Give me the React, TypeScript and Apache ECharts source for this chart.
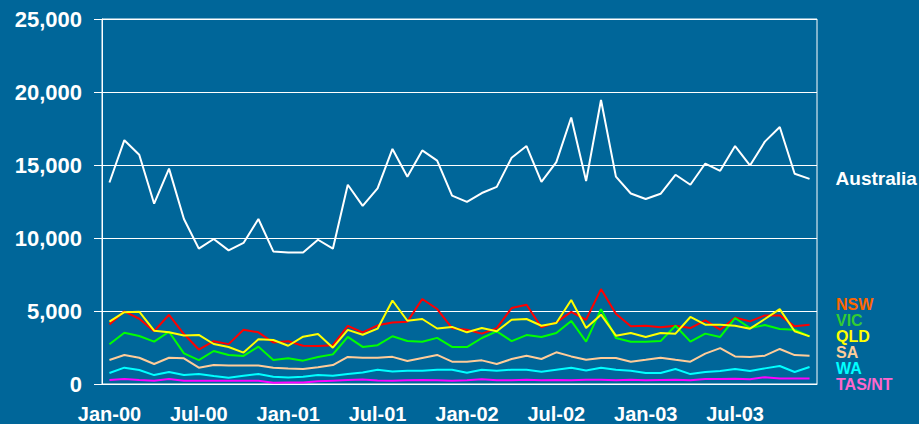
import React, { useEffect, useRef } from "react";
import * as echarts from "echarts";

const MONTHS = ["Jan", "Feb", "Mar", "Apr", "May", "Jun", "Jul", "Aug", "Sep", "Oct", "Nov", "Dec"];
const YEARS = ["00", "01", "02", "03"];
const CATEGORIES = YEARS.flatMap((y) => MONTHS.map((m) => `${m}-${y}`));

const AUSTRALIA = [13800, 16700, 15700, 12350, 14750, 11300, 9270, 9930, 9150, 9660, 11300, 9080, 9010, 9010, 9880, 9270,
  13650, 12200, 13400, 16100, 14200, 16000, 15300, 12900, 12470, 13080, 13500, 15500, 16300, 13850, 15200, 18250,
  13900, 19450, 14200, 13050, 12670, 13030, 14330, 13650, 15100, 14600, 16300, 14970, 16600, 17600, 14400, 14050];
const NSW = [4070, 4980, 4470, 3620, 4740, 3420, 2360, 2930, 2730, 3710, 3540, 2840, 2930, 2620, 2610, 2660,
  3980, 3530, 4020, 4210, 4270, 5820, 5135, 3820, 3720, 3450, 3830, 5200, 5430, 3880, 4220, 4940,
  4400, 6500, 4810, 3950, 3990, 3880, 3990, 3830, 4360, 3720, 4560, 4290, 4700, 4700, 3950, 4060];
const VIC = [2720, 3510, 3290, 2900, 3580, 2100, 1640, 2260, 1990, 1920, 2560, 1640, 1760, 1600, 1850, 2030,
  3230, 2540, 2660, 3270, 2940, 2900, 3160, 2540, 2530, 3150, 3600, 2940, 3350, 3220, 3490, 4320,
  2900, 5130, 3150, 2900, 2900, 2940, 3990, 2900, 3450, 3220, 4520, 3830, 4040, 3770, 3720, 3260];
const QLD = [4270, 4920, 4950, 3650, 3540, 3320, 3360, 2740, 2530, 2150, 3060, 3010, 2620, 3240, 3420, 2490,
  3710, 3370, 3790, 5720, 4330, 4450, 3800, 3910, 3540, 3830, 3610, 4400, 4450, 3990, 4180, 5750,
  3830, 4750, 3310, 3490, 3220, 3490, 3450, 4590, 4060, 4060, 3990, 3790, 4450, 5130, 3610, 3260];
const SA = [1640, 1990, 1800, 1370, 1800, 1760, 1120, 1300, 1260, 1260, 1260, 1120, 1070, 1030, 1140, 1300,
  1850, 1790, 1790, 1860, 1570, 1780, 1990, 1530, 1530, 1620, 1370, 1710, 1940, 1710, 2170, 1890,
  1660, 1780, 1780, 1530, 1660, 1800, 1660, 1530, 2080, 2460, 1890, 1850, 1940, 2400, 1980, 1940];
const WA = [750, 1120, 960, 610, 820, 610, 680, 550, 430, 570, 680, 500, 450, 500, 610, 570,
  690, 790, 970, 850, 910, 910, 970, 970, 770, 980, 910, 980, 980, 840, 980, 1120,
  930, 1120, 980, 910, 750, 750, 1030, 680, 820, 890, 1030, 890, 1070, 1230, 820, 1160];
const TAS_NT = [270, 340, 270, 220, 340, 230, 230, 230, 230, 230, 230, 90, 110, 110, 180, 230,
  270, 310, 240, 230, 260, 270, 250, 230, 250, 320, 250, 260, 290, 250, 270, 260,
  290, 290, 250, 290, 250, 270, 290, 260, 340, 340, 360, 330, 470, 380, 370, 370];

const STATES = [
  { name: "NSW", data: NSW, line: "#FF0000", label: "#FF6600" },
  { name: "VIC", data: VIC, line: "#00FF00", label: "#33CC33" },
  { name: "QLD", data: QLD, line: "#FFFF00", label: "#FFFF00" },
  { name: "SA", data: SA, line: "#FFCC99", label: "#FFCC99" },
  { name: "WA", data: WA, line: "#00FFFF", label: "#00FFFF" },
  { name: "TAS/NT", data: TAS_NT, line: "#FF00FF", label: "#FF66CC" },
];

const FONT = "'Liberation Sans', Arial, Helvetica, sans-serif";
const BG = "#006699";
const KEY_X = 836;
const KEY_Y0 = 304;
const KEY_STEP = 16.1;

export default function App() {
  const ref = useRef<HTMLDivElement>(null);
  useEffect(() => {
    if (!ref.current) return;
    const chart = echarts.init(ref.current, null, { renderer: "svg" });
    chart.setOption({
      animation: false,
      backgroundColor: BG,
      textStyle: { fontFamily: FONT },
      grid: {
        left: 102,
        right: 102,
        top: 19,
        bottom: 40,
        show: true,
        borderColor: "#FFFFFF",
        borderWidth: 1,
        backgroundColor: "transparent",
      },
      graphic: STATES.map((s, i) => ({
        type: "text",
        x: KEY_X,
        y: KEY_Y0 + i * KEY_STEP,
        style: {
          text: s.name,
          fill: s.label,
          font: `bold 16px ${FONT}`,
          textVerticalAlign: "middle",
          verticalAlign: "middle",
        },
      })),
      xAxis: {
        type: "category",
        data: CATEGORIES,
        boundaryGap: true,
        axisLine: { lineStyle: { color: "#FFFFFF", width: 1 } },
        axisTick: { interval: 5, length: 6, lineStyle: { color: "#FFFFFF" } },
        axisLabel: {
          interval: 5,
          color: "#FFFFFF",
          fontFamily: FONT,
          fontSize: 20,
          fontWeight: "bold",
          margin: 20,
        },
        splitLine: { show: false },
      },
      yAxis: {
        type: "value",
        min: 0,
        max: 25000,
        interval: 5000,
        axisLine: { show: true, lineStyle: { color: "#FFFFFF", width: 1 } },
        axisTick: { show: true, length: 8, lineStyle: { color: "#FFFFFF" } },
        axisLabel: {
          color: "#FFFFFF",
          fontFamily: FONT,
          fontSize: 22,
          fontWeight: "bold",
          margin: 20,
          formatter: (v: number) => v.toLocaleString("en-US"),
        },
        splitLine: { show: true, lineStyle: { color: "#FFFFFF", width: 1 } },
      },
      series: [
        {
          name: "Australia",
          type: "line",
          data: AUSTRALIA,
          symbol: "none",
          lineStyle: { color: "#FFFFFF", width: 2 },
          itemStyle: { color: "#FFFFFF" },
          endLabel: {
            show: true,
            formatter: "Australia",
            color: "#FFFFFF",
            fontFamily: FONT,
            fontSize: 19,
            fontWeight: "bold",
            distance: 26,
          },
        },
        ...STATES.map((s) => ({
          name: s.name,
          type: "line",
          data: s.data,
          symbol: "none",
          lineStyle: { color: s.line, width: 2 },
          itemStyle: { color: s.line },
        })),
      ],
    });
    return () => chart.dispose();
  }, []);
  return (
    <div
      ref={ref}
      style={{ position: "fixed", left: 0, top: 0, width: 919, height: 424, background: BG }}
    />
  );
}
